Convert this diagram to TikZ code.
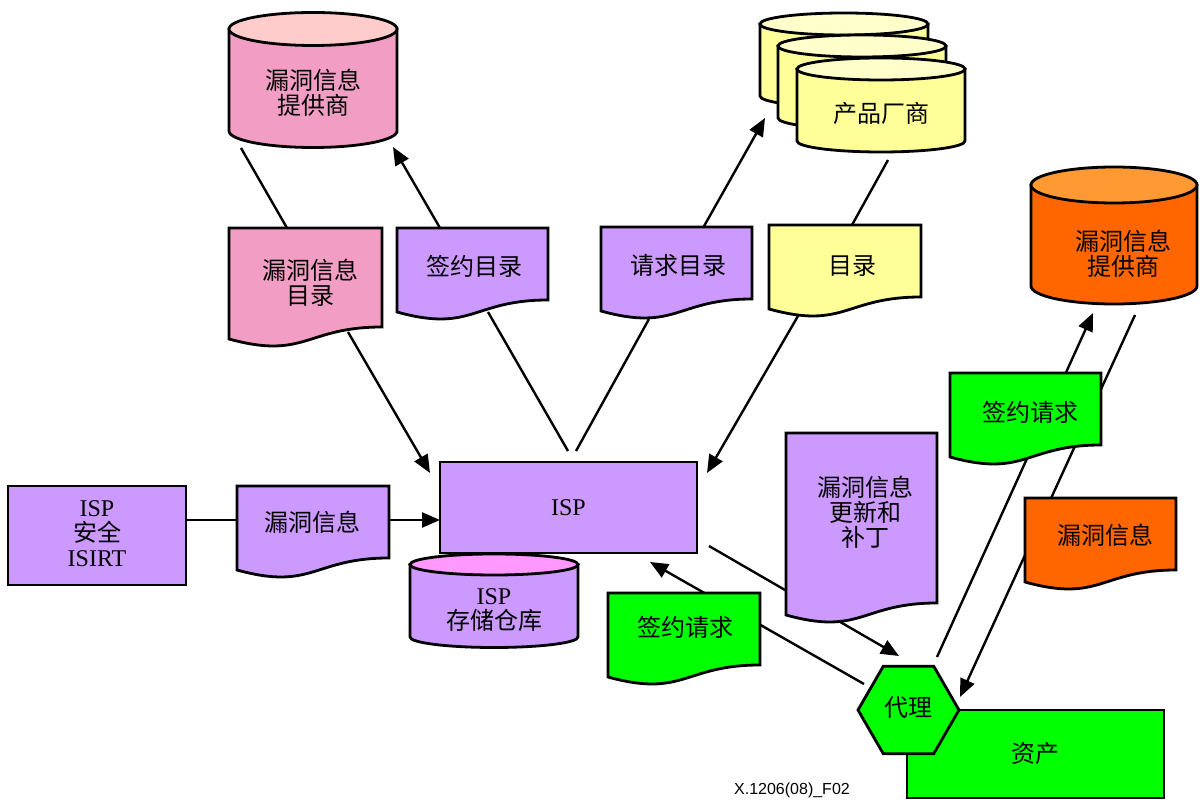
\documentclass[tikz,border=0pt]{standalone}
\usepackage{fontspec}
\setmainfont{Liberation Serif}
\newfontfamily\cjkfont{Noto Sans CJK SC}
\newfontfamily\captionfont{Liberation Sans}
\usetikzlibrary{arrows.meta}

\definecolor{vpink}{HTML}{F29EC4}
\definecolor{vpinktop}{HTML}{FFCCCC}
\definecolor{vpurple}{HTML}{CC99FF}
\definecolor{vmagtop}{HTML}{FF99FF}
\definecolor{vyellow}{HTML}{FFFF99}
\definecolor{vyellowtop}{HTML}{FFFFCC}
\definecolor{vorange}{HTML}{FF6600}
\definecolor{vorangetop}{HTML}{FF9933}
\definecolor{vgreen}{HTML}{00FF00}

\tikzset{
  shapeline/.style={draw=black, line width=1.4pt, line join=miter},
  link/.style={draw=black, line width=1.2pt},
  arrowlink/.style={link, -{Triangle[length=9pt,width=7.5pt]}},
  txt/.style={inner sep=0pt, align=center, font=\fontsize{12}{12.5}\selectfont},
  cjktxt/.style={txt, font=\fontsize{12}{12.5}\selectfont\cjkfont},
}

% document sheet with a wavy lower edge: left x, top y, right x, lower-right y, fill
\newcommand{\docshape}[5]{%
  \filldraw[shapeline, fill=#5] (#1,#2) -- (#1,#4+12)
    .. controls ({(#1+#3)/2},#4+33) and ({(#1+#3)/2},#4) .. (#3,#4)
    -- (#3,#2) -- cycle;}
% data store drum: left x, right x, top centre y, bottom centre y, y radius, body fill, lid fill
\newcommand{\cylshape}[7]{%
  \filldraw[shapeline, fill=#6] (#1,#3) -- (#1,#4)
    arc[start angle=180, end angle=0, x radius={(#2-#1)/2}, y radius=#5]
    -- (#2,#3) -- cycle;
  \filldraw[shapeline, fill=#7] ({(#1+#2)/2},#3)
    ellipse[x radius={(#2-#1)/2}, y radius=#5];}

\begin{document}
\begin{tikzpicture}[x=0.5pt, y=-0.5pt]
\useasboundingbox (0,0) rectangle (1200,801);

% ---- connector attachment points ----
\coordinate (pinkcat-up)    at (287,228);
\coordinate (pinkvend-low)  at (241,148);
\coordinate (signcat-up)    at (440,228);
\coordinate (pinkvend-in)   at (393,147);
\coordinate (reqcat-up)     at (703,228);
\coordinate (vendors-in)    at (765,118);
\coordinate (catalog-up)    at (852,225);
\coordinate (vendors-low)   at (888,160);
\coordinate (pinkcat-low)   at (348,332);
\coordinate (isp-nw)        at (430,473);
\coordinate (signcat-low)   at (488,312);
\coordinate (isp-nl)        at (568,451);
\coordinate (reqcat-low)    at (649,319);
\coordinate (isp-nr)        at (576,451);
\coordinate (catalog-low)   at (798,316);
\coordinate (isp-ne)        at (707,473);
\coordinate (isirt-out)     at (186,520);
\coordinate (vuln-in)       at (237,520);
\coordinate (vuln-out)      at (389,520);
\coordinate (isp-w)         at (440,520);
\coordinate (isp-se)        at (709,546);
\coordinate (agent-nw)      at (899,656);
\coordinate (agent-w)       at (864,684);
\coordinate (isp-s)         at (650,562);
\coordinate (agent-ne)      at (937,657);
\coordinate (orvend-in)     at (1093,313);
\coordinate (orvend-low)    at (1135,315);
\coordinate (agent-e)       at (960,697);

% ---- connectors (drawn first so the sheets cover them) ----
\draw[link]      (pinkcat-up)  -- (pinkvend-low);
\draw[arrowlink] (signcat-up)  -- (pinkvend-in);
\draw[arrowlink] (reqcat-up)   -- (vendors-in);
\draw[link]      (catalog-up)  -- (vendors-low);
\draw[arrowlink] (pinkcat-low) -- (isp-nw);
\draw[link]      (signcat-low) -- (isp-nl);
\draw[link]      (reqcat-low)  -- (isp-nr);
\draw[arrowlink] (catalog-low) -- (isp-ne);
\draw[link]      (isirt-out)   -- (vuln-in);
\draw[arrowlink] (vuln-out)    -- (isp-w);
\draw[arrowlink] (isp-se)      -- (agent-nw);
\draw[arrowlink] (agent-w)     -- (isp-s);
\draw[arrowlink] (agent-ne)    -- (orvend-in);
\draw[arrowlink] (orvend-low)  -- (agent-e);

% ---- data stores ----
\cylshape{229}{397}{29}{131}{16.5}{vpink}{vpinktop}
\cylshape{760}{928}{24}{96}{11}{vyellow}{vyellowtop}
\cylshape{778}{946}{46}{118}{11}{vyellow}{vyellowtop}
\cylshape{797}{965}{69}{141}{11}{vyellow}{vyellowtop}
\cylshape{1031}{1197}{185}{286}{18}{vorange}{vorangetop}
\cylshape{410}{578}{564.5}{637}{10.5}{vpurple}{vmagtop}

% ---- boxes ----
\filldraw[shapeline, fill=vpurple] (8,486) rectangle (186,585);
\filldraw[shapeline, fill=vpurple] (440,462) rectangle (697,553);
\filldraw[shapeline, fill=vgreen] (907,710) rectangle (1164,798);

% ---- documents ----
\docshape{229}{228}{382}{327}{vpink}
\docshape{397}{228}{548}{300}{vpurple}
\docshape{601}{227}{752}{299}{vpurple}
\docshape{769}{225}{921}{297}{vyellow}
\docshape{237}{486}{389}{558}{vpurple}
\docshape{786}{433}{937}{603}{vpurple}
\docshape{950}{373}{1101}{445}{vgreen}
\docshape{1025}{498}{1176}{570}{vorange}
\docshape{608}{593}{760}{665}{vgreen}

% ---- agent hexagon ----
\filldraw[shapeline, fill=vgreen] (959,710) -- (933.75,666.3) -- (883.25,666.3)
  -- (858,710) -- (883.25,753.7) -- (933.75,753.7) -- cycle;

% ---- texts ----
\node[cjktxt] (pinkvend) at (313,92.5) {漏洞信息\\提供商};
\node[cjktxt] (vendors)  at (881,113) {产品厂商};
\node[cjktxt] (orvend)   at (1123,254) {漏洞信息\\提供商};
\node[cjktxt] (pinkcat)  at (310,282.5) {漏洞信息\\目录};
\node[cjktxt] (signcat)  at (474,266) {签约目录};
\node[cjktxt] (reqcat)   at (678,265) {请求目录};
\node[cjktxt] (catalog)  at (852,266) {目录};
\node[txt]    (isirt)    at (97,534) {ISP\\{\cjkfont 安全}\\ISIRT};
\node[cjktxt] (vuln)     at (312,522) {漏洞信息};
\node[txt]    (isp)      at (568.5,507.5) {ISP};
\node[txt]    (ispstore) at (494,610) {ISP\\{\cjkfont 存储仓库}};
\node[cjktxt] (patches)  at (865,512) {漏洞信息\\更新和\\补丁};
\node[cjktxt] (signreqa) at (1030,412) {签约请求};
\node[cjktxt] (vulnor)   at (1105,535) {漏洞信息};
\node[cjktxt] (signreqb) at (685,627) {签约请求};
\node[cjktxt] (agent)    at (908.5,708) {代理};
\node[cjktxt] (assets)   at (1035.5,753) {资产};
\node[inner sep=0pt, font=\captionfont\fontsize{8}{9}\selectfont] (figid) at (792,790) {X.1206(08)\_F02};
\end{tikzpicture}
\end{document}
